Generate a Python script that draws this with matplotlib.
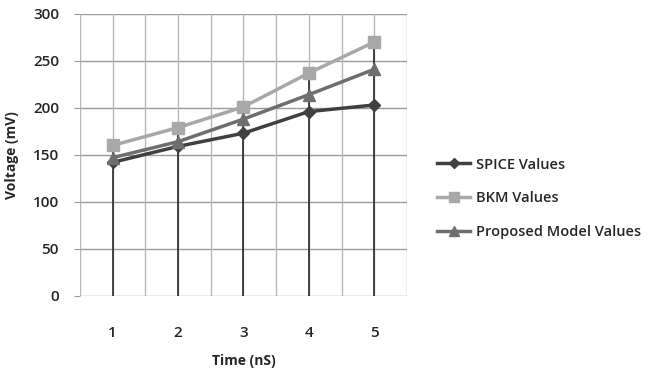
import matplotlib
matplotlib.use("Agg")
import matplotlib.pyplot as plt
from matplotlib.lines import Line2D

plt.rcParams['font.family'] = ['Open Sans', 'DejaVu Sans']

time_ns = [1, 2, 3, 4, 5]
spice_values = [142, 159, 173, 196, 203]
bkm_values = [160, 179, 201, 237, 270]
proposed_values = [147, 164, 188, 214, 241]
y_ticks = [0, 50, 100, 150, 200, 250, 300]

fig = plt.figure(figsize=(6.5, 3.74), dpi=100)
ax = fig.add_axes([0.123, 0.209, 0.503, 0.754])

grid_c = '#9a9a9a'
text_c = '#262626'
ax.set_xlim(0.5, 5.5)
ax.set_ylim(0, 300)

# gridlines
for yv in y_ticks:
    ax.axhline(yv, color=grid_c, lw=1.0, zorder=0)
xs = [0.5 + 0.5 * i for i in range(11)]
for xv in xs:
    ax.axvline(xv, color='#b8b8b8', lw=1.0, zorder=0)

# drop lines from each point to the axis
for t, a, b, c in zip(time_ns, spice_values, bkm_values, proposed_values):
    ax.vlines(t, 0, max(a, b, c), color='#1a1a1a', lw=1.1, zorder=1)

series = [
    ('SPICE Values', spice_values, '#404040', 'D', 6),
    ('BKM Values', bkm_values, '#a8a8a8', 's', 9),
    ('Proposed Model Values', proposed_values, '#6e6e6e', '^', 9),
]
handles = []
for name, vals, col, mk, ms in series:
    ax.plot(time_ns, vals, color=col, lw=2.5, marker=mk, markersize=ms,
            markeredgecolor=col, markerfacecolor=col, zorder=3)
    handles.append(Line2D([0], [0], color=col, lw=2.5, marker=mk,
                          markersize=ms * 0.8, markerfacecolor=col,
                          markeredgecolor=col, label=name))

for s in ax.spines.values():
    s.set_visible(False)

ax.set_yticks(y_ticks)
ax.set_xticks(time_ns)
ax.tick_params(axis='y', length=4, color=grid_c, labelsize=11, labelcolor=text_c, pad=11)
ax.tick_params(axis='x', length=0, labelsize=11, labelcolor=text_c, pad=22)
for lbl in ax.get_xticklabels() + ax.get_yticklabels():
    lbl.set_fontweight('semibold')
ax.set_ylabel('Voltage (mV)', fontsize=10, fontweight='bold', color=text_c)
ax.set_xlabel('Time (nS)', fontsize=10, fontweight='bold', color=text_c)
ax.yaxis.set_label_coords(-0.185, 0.5)
ax.xaxis.set_label_coords(0.5, -0.205)

leg = fig.legend(handles=handles, loc='center left', bbox_to_anchor=(0.652, 0.47),
                 frameon=False, fontsize=10.5, handlelength=2.3, labelspacing=1.35,
                 handletextpad=0.35, labelcolor=text_c)
for t in leg.get_texts():
    t.set_fontweight('semibold')

fig.savefig('out.png', dpi=100)
